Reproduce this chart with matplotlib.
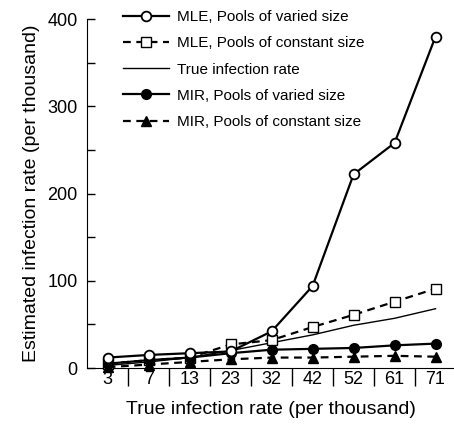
import matplotlib.pyplot as plt
from matplotlib.ticker import FixedLocator, NullFormatter

plt.rcParams['font.family'] = ['Liberation Sans', 'DejaVu Sans']

rates = ['3', '7', '13', '23', '32', '42', '52', '61', '71']
mle_varied = [12, 15, 17, 19, 42, 94, 222, 258, 380]
mle_constant = [5, 9, 12, 27, 32, 47, 61, 76, 91]
true_rate = [3, 7, 12, 20, 29, 38, 49, 57, 68]
mir_varied = [5, 9, 12, 17, 21, 22, 23, 26, 28]
mir_constant = [1, 4, 7, 10, 12, 12, 13, 14, 13]

fig = plt.figure(figsize=(4.54, 4.24), dpi=100)
ax = fig.add_axes([0.192, 0.132, 0.808, 0.823])
x = range(len(rates))

ax.plot(x, mle_varied, 'k-', marker='o', mfc='white', mec='black', mew=1.3,
        ms=7, lw=1.6, label='MLE, Pools of varied size', clip_on=False, zorder=5)
ax.plot(x, mle_constant, 'k--', marker='s', mfc='white', mec='black', mew=1.0,
        ms=7, lw=1.6, dashes=(3.5, 2.5), label='MLE, Pools of constant size', clip_on=False, zorder=4)
ax.plot(x, true_rate, 'k-', lw=1.0, label='True infection rate', zorder=3)
ax.plot(x, mir_varied, 'k-', marker='o', mfc='black', ms=7, lw=1.6,
        label='MIR, Pools of varied size', clip_on=False, zorder=4)
ax.plot(x, mir_constant, 'k--', marker='^', mfc='black', ms=7, lw=1.6, dashes=(3.5, 2.5),
        label='MIR, Pools of constant size', clip_on=False, zorder=4)

ax.set_xlim(-0.5, 8.45)
ax.set_ylim(0, 400)
ax.spines['top'].set_visible(False)
ax.spines['right'].set_visible(False)

# y ticks every 50 pointing inward, labels only on hundreds
ax.yaxis.set_major_locator(FixedLocator([0, 100, 200, 300, 400]))
ax.yaxis.set_minor_locator(FixedLocator([50, 150, 250, 350]))
ax.tick_params(axis='y', which='both', direction='in', length=6, width=1, labelsize=13, pad=7)

# x: long separators between categories, labels centered without ticks
ax.xaxis.set_major_locator(FixedLocator([i + 0.5 for i in range(8)]))
ax.xaxis.set_major_formatter(NullFormatter())
ax.xaxis.set_minor_locator(FixedLocator(list(x)))
ax.set_xticklabels(rates, minor=True)
ax.tick_params(axis='x', which='major', direction='out', length=13, width=1)
ax.tick_params(axis='x', which='minor', length=0, labelsize=13, pad=2)

ax.set_xlabel('True infection rate (per thousand)', fontsize=14, labelpad=7)
ax.set_ylabel('Estimated infection rate (per thousand)', fontsize=14, labelpad=5)

ax.legend(loc='upper left', bbox_to_anchor=(0.06, 1.065), frameon=False, fontsize=11,
          handlelength=3.0, labelspacing=0.8, handletextpad=0.55)

fig.savefig('out.png', dpi=100)
